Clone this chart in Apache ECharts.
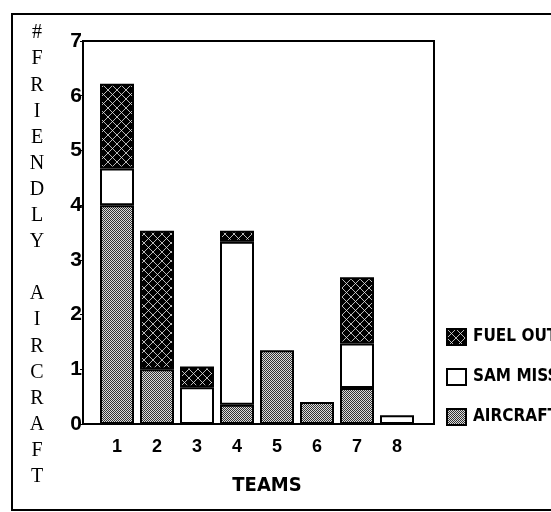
<!DOCTYPE html>
<html>
<head>
<meta charset="utf-8">
<script src="https://cdn.jsdelivr.net/npm/echarts@6/dist/echarts.min.js"></script>
<style>
  html, body { margin: 0; padding: 0; background: #fff; }
  #chart { width: 551px; height: 512px; }
</style>
</head>
<body>
<div id="chart"></div>
<script>
// Friendly aircraft losses per team, stacked by cause
const teams = ['1', '2', '3', '4', '5', '6', '7', '8'];
const aircraft = [4, 1, 0, 0.35, 1.35, 0.4, 0.66, 0];
const samMiss = [0.67, 0, 0.67, 2.98, 0, 0, 0.81, 0.16];
const fuelOut = [1.55, 2.53, 0.38, 0.2, 0, 0, 1.21, 0];
const yTicks = [0, 7, 1]; // min, max, interval

// Fill patterns
function fuelTile() {
  const n = 9;
  const c = document.createElement('canvas');
  c.width = n; c.height = n;
  const g = c.getContext('2d');
  g.fillStyle = '#000';
  g.fillRect(0, 0, n, n);
  g.strokeStyle = '#e8e8e8';
  g.lineWidth = 0.8;
  g.beginPath();
  g.moveTo(0, 0); g.lineTo(n, n);
  g.moveTo(n, 0); g.lineTo(0, n);
  g.stroke();
  return c;
}
function stippleTile() {
  const c = document.createElement('canvas');
  c.width = 2; c.height = 2;
  const g = c.getContext('2d');
  g.fillStyle = '#dcdcdc';
  g.fillRect(0, 0, 2, 2);
  g.fillStyle = '#333333';
  g.fillRect(0, 0, 1, 1);
  g.fillRect(1, 1, 1, 1);
  return c;
}
const fuelFill = { image: fuelTile(), repeat: 'repeat' };
const stippleFill = { image: stippleTile(), repeat: 'repeat' };

const noZero = arr => arr.map(v => (v === 0 ? '-' : v));

const sansBold = { fontFamily: 'Liberation Sans, Arial, sans-serif', fontWeight: 'bold', color: '#000' };
const narrow = 'Liberation Sans Narrow, DejaVu Sans Condensed, Arial Narrow, sans-serif';

const chart = echarts.init(document.getElementById('chart'), null, { renderer: 'canvas' });

const barBase = {
  type: 'bar',
  stack: 'losses',
  xAxisIndex: 1,
  yAxisIndex: 1,
  barWidth: 34,
  animation: false
};
const border = { borderColor: '#000', borderWidth: 2 };

chart.setOption({
  animation: false,
  backgroundColor: '#fff',
  grid: [
    { left: 83, top: 41, width: 351, height: 383, show: true, borderColor: '#000', borderWidth: 2, backgroundColor: 'transparent' },
    { left: 97, top: 41, width: 320, height: 383 }
  ],
  xAxis: [
    { gridIndex: 0, type: 'value', show: false, min: 0, max: 1 },
    {
      gridIndex: 1, type: 'category', data: teams,
      axisLine: { lineStyle: { color: '#000', width: 2 } },
      axisTick: { alignWithLabel: true, length: 3, lineStyle: { color: '#000', width: 2 } },
      axisLabel: Object.assign({ fontSize: 18, margin: 14 }, sansBold),
      splitLine: { show: false }
    }
  ],
  yAxis: [
    {
      gridIndex: 0, type: 'value', min: yTicks[0], max: yTicks[1], interval: yTicks[2],
      axisLine: { show: true, lineStyle: { color: '#000', width: 2 } },
      axisTick: { show: true, length: 3, lineStyle: { color: '#000', width: 1 } },
      axisLabel: Object.assign({ fontSize: 21, margin: 1 }, sansBold),
      splitLine: { show: false }
    },
    { gridIndex: 1, type: 'value', min: yTicks[0], max: yTicks[1], show: false, splitLine: { show: false } }
  ],
  legend: {
    orient: 'vertical',
    left: 441,
    top: 323,
    itemWidth: 19,
    itemHeight: 16,
    itemGap: 22,
    icon: 'rect',
    data: ['FUEL OUT', 'SAM MISS', 'AIRCRAFT'],
    textStyle: { fontFamily: narrow, fontWeight: 'bold', fontSize: 17, color: '#000', padding: [0, 0, 0, 2] }
  },
  series: [
    Object.assign({}, barBase, { name: 'AIRCRAFT', data: noZero(aircraft), itemStyle: Object.assign({ color: stippleFill }, border) }),
    Object.assign({}, barBase, { name: 'SAM MISS', data: noZero(samMiss), itemStyle: Object.assign({ color: '#fff' }, border) }),
    Object.assign({}, barBase, { name: 'FUEL OUT', data: noZero(fuelOut), itemStyle: Object.assign({ color: fuelFill }, border) })
  ],
  graphic: [
    { type: 'rect', silent: true, z: -1, shape: { x: 12, y: 14, width: 560, height: 496 }, style: { fill: null, stroke: '#000', lineWidth: 2 } },
    {
      type: 'text', silent: true, x: 37, y: 20,
      style: {
        text: '#\nF\nR\nI\nE\nN\nD\nL\nY\n \nA\nI\nR\nC\nR\nA\nF\nT',
        font: '20px "Liberation Serif", "Times New Roman", serif',
        lineHeight: 26.1,
        textAlign: 'center',
        textVerticalAlign: 'top',
        fill: '#000'
      }
    },
    {
      type: 'text', silent: true, x: 267, y: 486,
      style: {
        text: 'TEAMS',
        font: 'bold 20px ' + narrow,
        textAlign: 'center',
        textVerticalAlign: 'middle',
        fill: '#000'
      }
    }
  ]
});
</script>
</body>
</html>
